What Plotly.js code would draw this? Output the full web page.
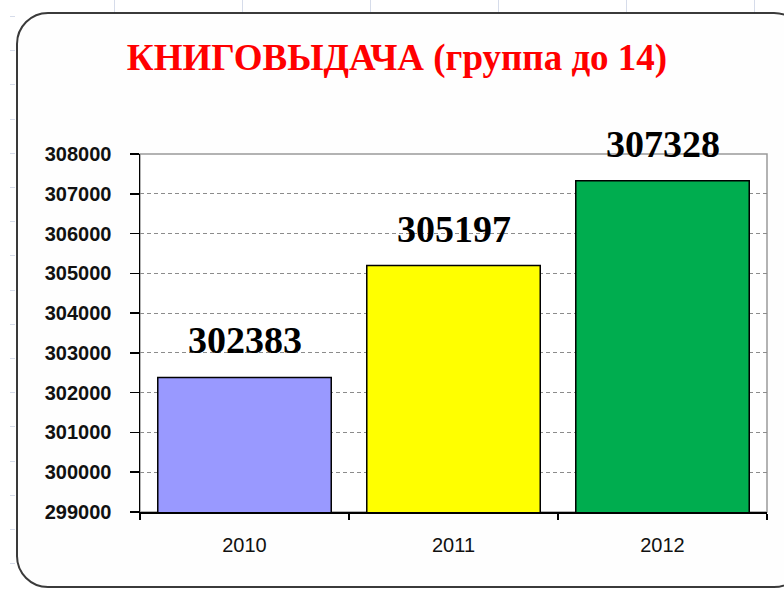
<!DOCTYPE html>
<html>
<head>
<meta charset="utf-8">
<script src="https://cdn.plot.ly/plotly-3.0.1.min.js"></script>
<style>
  html, body { margin: 0; padding: 0; background: #ffffff; overflow: hidden; }
  #wrap { position: relative; width: 784px; height: 590px; overflow: hidden; }
  #frame { position: absolute; left: 16px; top: 12px; width: 790px; height: 576px;
           border: 2px solid #3a3a3a; border-radius: 32px; background: #fefefe; box-sizing: border-box; }
  .vline { position: absolute; top: 0; width: 1px; height: 12px; background: #d6dcea; }
  .hline { position: absolute; left: 10px; width: 5px; height: 1px; background: #d6dcea; }
  #chart { position: absolute; left: 0; top: 0; }
</style>
</head>
<body>
<div id="wrap">
  <div id="frame"></div>
  <div id="chart"></div>
</div>
<script>
// ---- data ----
const years = ["2010", "2011", "2012"];
const circulation = [302383, 305197, 307328];
const barColors = ["#9999FF", "#FFFF00", "#00AD4F"];
const titleText = "КНИГОВЫДАЧА (группа до 14)";

// decorative spreadsheet gridlines outside the chart frame
const wrap = document.getElementById('wrap');
[114, 242, 370, 498, 626, 754].forEach(x => {
  const d = document.createElement('div'); d.className = 'vline'; d.style.left = x + 'px'; wrap.insertBefore(d, wrap.firstChild);
});
for (let y = 16; y < 590; y += 34.2) {
  const d = document.createElement('div'); d.className = 'hline'; d.style.top = Math.round(y) + 'px'; wrap.insertBefore(d, wrap.firstChild);
}

const trace = {
  type: 'bar',
  x: years,
  y: circulation,
  marker: { color: barColors, line: { color: '#000000', width: 1.5 } },
  hoverinfo: 'x+y'
};

const annotations = years.map((yr, i) => ({
  x: i, y: circulation[i], xref: 'x', yref: 'y',
  text: String(circulation[i]),
  showarrow: false, yanchor: 'bottom', xanchor: 'center', yshift: 14,
  font: { family: 'Liberation Serif, Times New Roman, serif', size: 38, color: '#000000', weight: 'bold' }
}));

const layout = {
  width: 784, height: 590,
  margin: { l: 140, r: 17, t: 154, b: 78, pad: 0 },
  paper_bgcolor: 'rgba(0,0,0,0)',
  plot_bgcolor: '#ffffff',
  showlegend: false,
  bargap: 0.17,
  title: {
    text: titleText,
    x: 397 / 784, xanchor: 'center', xref: 'container',
    y: 1 - 57 / 590, yanchor: 'middle', yref: 'container',
    font: { family: 'Liberation Serif, Times New Roman, serif', size: 37, color: '#FF0000', weight: 'bold' }
  },
  xaxis: {
    type: 'category',
    range: [-0.5, 2.5],
    autorange: false,
    tickson: 'boundaries',
    ticks: 'outside', ticklen: 6, tickcolor: '#000', tickwidth: 1.5,
    showline: true, linecolor: '#000', linewidth: 1.5,
    showgrid: false,
    ticklabelstandoff: 14,
    tickangle: 0,
    tickfont: { family: 'Liberation Sans, Arial, sans-serif', size: 20, color: '#111' }
  },
  yaxis: {
    range: [299000, 308000],
    autorange: false,
    dtick: 1000, tick0: 299000,
    tickformat: 'd',
    ticks: 'outside', ticklen: 9, tickcolor: '#000', tickwidth: 1.5,
    showline: true, linecolor: '#000', linewidth: 1.5,
    showgrid: true, gridcolor: '#8c8c8c', griddash: '4px,3px', gridwidth: 1,
    zeroline: false,
    ticklabelstandoff: 14,
    tickfont: { family: 'Liberation Sans, Arial, sans-serif', size: 20, color: '#111', weight: 'bold' }
  },
  shapes: [
    { type: 'rect', xref: 'paper', yref: 'paper', x0: 0, x1: 1, y0: 0, y1: 1,
      line: { color: '#9a9a9a', width: 1.5 }, layer: 'below' }
  ],
  annotations: annotations
};

Plotly.newPlot('chart', [trace], layout, { displayModeBar: false, staticPlot: true });
</script>
</body>
</html>
